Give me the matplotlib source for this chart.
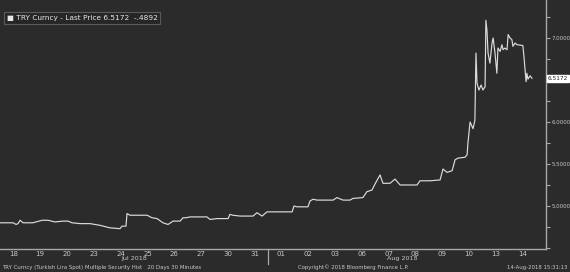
import numpy as np
import matplotlib
matplotlib.use('Agg')
import matplotlib.pyplot as plt
from matplotlib.ticker import MultipleLocator, FixedLocator, FuncFormatter

# trading day labels (one slot per day) and month captions
day_labels = ['18', '19', '20', '23', '24', '25', '26', '27', '30', '31',
              '01', '02', '03', '06', '07', '08', '09', '10', '13', '14']
month_labels = ['Jul 2018', 'Aug 2018']
y_major = [5.0, 5.5, 6.0, 6.5, 7.0]

# position in trading days since start, and TRY spot price
t = [0.00, 0.49, 0.60, 0.67, 0.75, 0.86, 1.23, 1.57, 1.79, 2.05,
     2.35, 2.54, 2.69, 2.99, 3.36, 3.73, 4.10, 4.48, 4.55, 4.70,
     4.74, 4.85, 5.49, 5.67, 5.86, 6.08, 6.27, 6.46, 6.72, 6.83,
     6.94, 7.09, 7.46, 7.72, 7.84, 8.10, 8.51, 8.58, 8.69, 8.96,
     9.44, 9.59, 9.78, 9.96, 10.45, 10.90, 10.97, 11.08, 11.49, 11.57,
     11.68, 11.83, 12.43, 12.57, 12.80, 13.06, 13.17, 13.54, 13.69, 13.88,
     13.99, 14.18, 14.29, 14.55, 14.74, 14.93, 15.56, 15.67, 16.04, 16.42,
     16.53, 16.68, 16.87, 16.98, 17.09, 17.35, 17.43, 17.46, 17.54, 17.65,
     17.72, 17.76, 17.80, 17.87, 17.95, 18.02, 18.10, 18.13, 18.17, 18.21,
     18.28, 18.36, 18.40, 18.47, 18.54, 18.58, 18.66, 18.73, 18.77, 18.84,
     18.92, 18.96, 19.03, 19.10, 19.14, 19.22, 19.29, 19.51, 19.55, 19.63,
     19.66, 19.70, 19.78, 19.85]
price = [4.80, 4.80, 4.78, 4.79, 4.83, 4.80, 4.80, 4.83, 4.83, 4.81,
         4.82, 4.82, 4.80, 4.79, 4.79, 4.77, 4.74, 4.73, 4.76, 4.76,
         4.91, 4.89, 4.89, 4.86, 4.85, 4.80, 4.78, 4.82, 4.82, 4.86,
         4.86, 4.87, 4.87, 4.87, 4.84, 4.85, 4.85, 4.90, 4.89, 4.88,
         4.88, 4.92, 4.88, 4.93, 4.93, 4.93, 5.00, 4.99, 4.99, 5.06,
         5.08, 5.07, 5.07, 5.10, 5.07, 5.07, 5.09, 5.10, 5.17, 5.19,
         5.26, 5.37, 5.27, 5.27, 5.32, 5.25, 5.25, 5.30, 5.30, 5.31,
         5.44, 5.40, 5.42, 5.55, 5.57, 5.58, 5.61, 5.75, 6.00, 5.92,
         6.02, 6.82, 6.46, 6.38, 6.44, 6.38, 6.42, 7.21, 7.09, 6.82,
         6.70, 6.94, 7.00, 6.82, 6.58, 6.88, 6.84, 6.92, 6.86, 6.88,
         6.86, 7.04, 7.00, 6.98, 6.90, 6.94, 6.92, 6.91, 6.78, 6.48,
         6.58, 6.51, 6.55, 6.52]
last_price = 6.5172
change = -.4892

bg = '#2b2b2b'
fg = '#c8c8c8'
axc = '#a8a8a8'

plt.rcParams['font.family'] = ['DejaVu Sans']
fig = plt.figure(figsize=(5.7, 2.72), dpi=100, facecolor=bg)
ax = fig.add_axes([0, 23 / 272, 546 / 570, 249 / 272], facecolor=bg)

ax.plot(t, price, color='#dcdcdc', lw=0.85)
ax.set_xlim(0, 546 / 26.8)
ax.set_ylim(4.488, 7.452)

for s in ['top', 'left']:
    ax.spines[s].set_visible(False)
for s in ['right', 'bottom']:
    ax.spines[s].set_color(axc)
    ax.spines[s].set_linewidth(1.0)


def ylab(v, pos):
    # the last price tag sits over the 6.5 label
    if abs(v - last_price) < 0.1:
        return ''
    return '%.4f' % v


ax.yaxis.tick_right()
ax.yaxis.set_major_locator(FixedLocator(y_major))
ax.yaxis.set_minor_locator(MultipleLocator(0.25))
ax.yaxis.set_major_formatter(FuncFormatter(ylab))
ax.tick_params(axis='y', which='both', colors=axc, labelcolor=fg, labelsize=3.9,
               length=3, width=0.8, pad=1.2, direction='out')

ax.set_xticks(np.arange(len(day_labels)) + 0.5)
ax.set_xticklabels(day_labels)
ax.tick_params(axis='x', length=0, labelcolor=fg, labelsize=5, pad=1.8)

# month separator and month captions
ax.plot([10, 10], [0, -0.06], transform=ax.get_xaxis_transform(), color=axc,
        lw=0.9, clip_on=False)
ax.text(5, -0.03, month_labels[0], transform=ax.get_xaxis_transform(), color=fg,
        fontsize=4.6, ha='center', va='top')
ax.text(15, -0.03, month_labels[1], transform=ax.get_xaxis_transform(), color=fg,
        fontsize=4.6, ha='center', va='top')

# last price tag on the axis
ax.annotate('%.4f' % last_price, xy=(1.0, last_price),
            xycoords=ax.get_yaxis_transform(), xytext=(1.5, 0),
            textcoords='offset points', fontsize=4.2, color='#202020',
            va='center', ha='left',
            bbox=dict(boxstyle='square,pad=0.15', fc='white', ec='white'))

# legend box
ax.text(0.012, 0.927, '\u25A0 TRY Curncy - Last Price %.4f  %s' % (last_price, ('%.4f' % change).replace('0.', '.')),
        transform=ax.transAxes, color='#e8e8e8', fontsize=5.3, ha='left', va='center',
        bbox=dict(boxstyle='square,pad=0.4', fc='#262626', ec='#5a5a5a', lw=0.8))

# footer
fig.text(0.003, 0.018, 'TRY Curncy (Turkish Lira Spot) Multiple Security Hist   20 Days 30 Minutes',
         color=fg, fontsize=3.9, ha='left', va='center')
fig.text(0.62, 0.018, 'Copyright\u00a9 2018 Bloomberg Finance L.P.',
         color=fg, fontsize=3.9, ha='center', va='center')
fig.text(0.996, 0.018, '14-Aug-2018 15:31:13',
         color=fg, fontsize=3.9, ha='right', va='center')

fig.savefig('out.png', dpi=100, facecolor=bg)
